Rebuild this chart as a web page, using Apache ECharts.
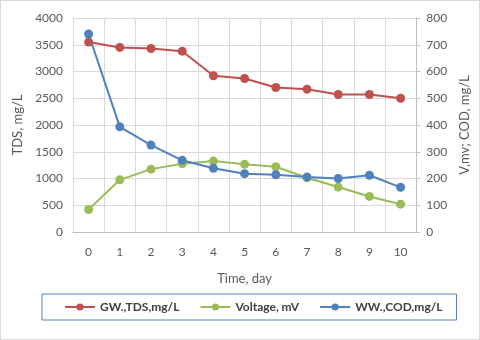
<!DOCTYPE html>
<html>
<head>
<meta charset="utf-8">
<script src="https://cdn.jsdelivr.net/npm/echarts@6/dist/echarts.min.js"></script>
<style>
  html, body { margin: 0; padding: 0; background: #fff; }
  #chart { width: 480px; height: 340px; box-sizing: border-box; border: 1px solid #d9d9d9; }
</style>
</head>
<body>
<div id="chart"></div>
<script>
const days = ["0", "1", "2", "3", "4", "5", "6", "7", "8", "9", "10"];
const tds = [3550, 3450, 3430, 3380, 2920, 2870, 2700, 2670, 2570, 2570, 2500];
const voltage = [84, 195, 235, 255, 265, 253, 244, 203, 168, 133, 104];
const cod = [740, 393, 325, 268, 238, 218, 214, 206, 200, 212, 167];

const textColor = "#595959";
const font = "Lato";

const chart = echarts.init(document.getElementById("chart"));
chart.setOption({
  animation: false,
  textStyle: { fontFamily: font },
  grid: { left: 72, right: 60, top: 17, bottom: 107 },
  legend: {
    left: 41,
    top: 293,
    padding: [7, 14, 7, 22],
    itemGap: 20,
    itemWidth: 30,
    itemHeight: 9,
    borderColor: "#4f81bd",
    borderWidth: 1,
    borderRadius: 0,
    textStyle: { color: "#404040", fontSize: 12, fontWeight: "bold", fontFamily: font },
    data: ["GW.,TDS,mg/L", "Voltage, mV", "WW.,COD,mg/L"]
  },
  xAxis: {
    type: "category",
    data: days,
    boundaryGap: true,
    name: "Time, day",
    nameLocation: "middle",
    nameGap: 40,
    nameTextStyle: { color: textColor, fontSize: 13 },
    axisLine: { lineStyle: { color: "#bfbfbf" } },
    axisTick: { show: false },
    axisLabel: { color: textColor, fontSize: 12, margin: 14 },
    splitLine: { show: true, lineStyle: { color: "#d9d9d9" } }
  },
  yAxis: [
    {
      type: "value",
      min: 0,
      max: 4000,
      interval: 500,
      name: "TDS, mg/L",
      nameLocation: "middle",
      nameRotate: 90,
      nameGap: 40,
      nameTextStyle: { color: textColor, fontSize: 13 },
      axisLine: { show: false },
      axisTick: { show: false },
      axisLabel: { color: textColor, fontSize: 12, margin: 10, formatter: v => String(v) },
      splitLine: { lineStyle: { color: "#d9d9d9" } }
    },
    {
      type: "value",
      position: "right",
      min: 0,
      max: 800,
      interval: 100,
      name: "V,mv; COD, mg/L",
      nameLocation: "middle",
      nameRotate: 90,
      nameGap: 32,
      nameTextStyle: { color: textColor, fontSize: 13 },
      axisLine: { show: true, lineStyle: { color: "#bfbfbf" } },
      axisTick: { show: true, length: 4, lineStyle: { color: "#bfbfbf" } },
      axisLabel: { color: textColor, fontSize: 12, margin: 10, formatter: v => String(v) },
      splitLine: { show: false }
    }
  ],
  series: [
    {
      name: "GW.,TDS,mg/L",
      type: "line",
      yAxisIndex: 0,
      data: tds,
      symbol: "circle",
      symbolSize: 9,
      color: "#c0504d",
      lineStyle: { width: 2 }
    },
    {
      name: "Voltage, mV",
      type: "line",
      yAxisIndex: 1,
      data: voltage,
      symbol: "circle",
      symbolSize: 9,
      color: "#9bbb59",
      lineStyle: { width: 2 }
    },
    {
      name: "WW.,COD,mg/L",
      type: "line",
      yAxisIndex: 1,
      data: cod,
      symbol: "circle",
      symbolSize: 9,
      color: "#4f81bd",
      lineStyle: { width: 2 }
    }
  ]
});
</script>
</body>
</html>
